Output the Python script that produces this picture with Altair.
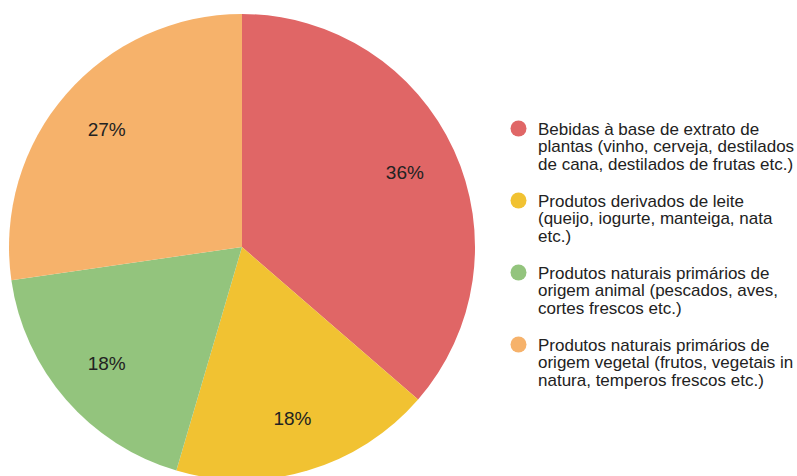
import altair as alt
import pandas as pd

categories = [
    "Bebidas à base de extrato de|plantas (vinho, cerveja, destilados|de cana, destilados de frutas etc.)",
    "Produtos derivados de leite|(queijo, iogurte, manteiga, nata|etc.)",
    "Produtos naturais primários de|origem animal (pescados, aves,|cortes frescos etc.)",
    "Produtos naturais primários de|origem vegetal (frutos, vegetais in|natura, temperos frescos etc.)",
]
values = [36.4, 18.2, 18.2, 27.3]
pct_labels = ["36%", "18%", "18%", "27%"]
colors = ["#E06666", "#F1C232", "#93C47D", "#F6B26B"]

df = pd.DataFrame({
    "cat": categories,
    "value": values,
    "label": pct_labels,
    "idx": list(range(len(categories))),
})

base = alt.Chart(df).encode(
    theta=alt.Theta("value:Q", stack=True),
    order=alt.Order("idx:Q"),
)

pie = base.mark_arc(radius=233, stroke=None).encode(
    x=alt.value(242),
    y=alt.value(247),
    color=alt.Color(
        "cat:N",
        scale=alt.Scale(domain=categories, range=colors),
        sort=categories,
        legend=alt.Legend(
            title=None,
            orient="none",
            legendX=510,
            legendY=120,
            symbolType="circle",
            symbolSize=256,
            symbolStrokeWidth=0,
            labelExpr="split(datum.label, '|')",
            labelFont="Liberation Sans",
            labelFontSize=17,
            labelColor="#222222",
            labelLimit=300,
            labelOffset=11,
            labelBaseline="top",
            rowPadding=19,
        ),
    ),
)

text = base.mark_text(
    radius=179, font="Liberation Sans", fontSize=19, color="#222222"
).encode(
    x=alt.value(242),
    y=alt.value(247),
    text="label:N",
)

chart = (
    alt.layer(pie, text)
    .properties(
        width=797, height=476, padding=0,
        autosize=alt.AutoSizeParams(type="none"),
    )
    .configure(
        background="white",
        style={"guide-label": {"lineHeight": 17.5, "dy": -7}},
    )
    .configure_view(stroke=None)
)

chart.save("out.html", embed_options={"renderer": "svg", "actions": False})
